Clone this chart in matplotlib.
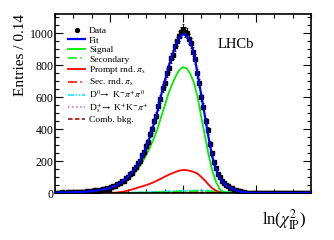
import numpy as np
import matplotlib
matplotlib.use("Agg")
import matplotlib.pyplot as plt
from matplotlib.lines import Line2D
from matplotlib.ticker import MultipleLocator

plt.rcParams['font.family'] = ['Liberation Serif', 'DejaVu Serif']
plt.rcParams['mathtext.fontset'] = 'stix'

# ---------------- data ----------------
bin_lo = -3.75
bin_w = 0.14
data_counts = [1, 3, 2, 4, 3, 2, 4, 5, 3, 6, 4, 7, 5, 8, 7, 11, 9, 13, 12, 16,
               14, 20, 18, 25, 22, 30, 27, 36, 42, 45, 56, 60, 74, 76, 92, 99, 119, 125, 150, 160,
               188, 200, 236, 255, 295, 318, 370, 398, 450, 482, 545, 588, 655, 690, 752, 785, 845, 866, 920, 948,
               985, 1005, 1025, 1010, 1002, 962, 940, 885, 838, 750, 690, 598, 540, 450, 392, 305, 248, 192, 158, 118,
               99, 73, 64, 47, 44, 31, 29, 18, 17, 11, 10, 5, 6, 3, 3, 1, 2, 0, 0, 0,
               0, 0, 0, 0, 0, 0, 0, 0, 0, 0, 0, 0, 0, 0, 0, 0, 0, 0, 0, 0,
               0, 0, 0, 0, 0]

# main curves on a 0.25 grid from -3.75 to 13.75
curve_x0 = -3.75
curve_dx = 0.25
fit_vals = [2, 2, 3, 3, 4, 4, 5, 6, 8, 9, 12, 14, 18, 22, 26, 30, 40, 52, 66, 82,
            104, 128, 158, 192, 238, 290, 355, 430, 510, 610, 700, 785, 860, 925, 972, 995, 985, 945, 875, 745,
            610, 480, 345, 228, 150, 98, 65, 45, 32, 20, 13, 7, 4, 2, 1, 1, 0, 0, 0, 0,
            0, 0, 0, 0, 0, 0, 0, 0, 0, 0, 0]
signal_vals = [1, 1, 1, 2, 2, 2, 3, 4, 5, 6, 7, 8, 11, 14, 19, 25, 34, 45, 56, 70,
               88, 108, 132, 160, 198, 240, 288, 340, 400, 475, 545, 620, 680, 730, 770, 788, 780, 745, 690, 600,
               475, 357, 238, 140, 72, 24, 6, 1, 0, 0, 0, 0, 0, 0, 0, 0, 0, 0, 0, 0,
               0, 0, 0, 0, 0, 0, 0, 0, 0, 0, 0]
prompt_rnd_vals = [0, 0, 0, 0, 0, 0, 0, 0, 0, 0, 0, 0, 0, 0, 0, 1, 2, 3, 6, 10,
                   15, 22, 29, 36, 43, 50, 58, 68, 79, 90, 102, 113, 123, 132, 140, 144, 143, 138, 131, 121,
                   100, 78, 52, 30, 15, 5, 1, 0, 0, 0, 0, 0, 0, 0, 0, 0, 0, 0, 0, 0,
                   0, 0, 0, 0, 0, 0, 0, 0, 0, 0, 0]

# small components on a 0.5 grid from -3.75 to 13.75
small_x0 = -3.75
small_dx = 0.5
secondary_vals = [0, 0, 0, 0, 0, 0, 0, 0, 1, 1, 1, 2, 3, 4, 5, 7, 8, 10, 11, 12,
                  12, 11, 9, 6, 4, 2, 1, 0, 0, 0, 0, 0, 0, 0, 0, 0]
sec_rnd_vals = [0, 0, 0, 0, 0, 0, 0, 0, 0, 0, 0, 0, 1, 1, 2, 2, 3, 4, 4, 5,
                5, 4, 3, 2, 1, 1, 0, 0, 0, 0, 0, 0, 0, 0, 0, 0]
d0_vals = [0, 0, 0, 0, 0, 0, 0, 0, 1, 2, 3, 5, 5, 7, 9, 11, 13, 14, 15, 16,
           16, 15, 13, 10, 7, 4, 2, 1, 0, 0, 0, 0, 0, 0, 0, 0]
ds_vals = [0, 0, 0, 0, 0, 0, 0, 0, 0, 0, 1, 1, 2, 3, 4, 5, 6, 7, 8, 8,
           8, 7, 6, 4, 3, 2, 1, 0, 0, 0, 0, 0, 0, 0, 0, 0]
comb_vals = [1, 1, 1, 1, 1, 1, 1, 1, 1, 1, 1, 1, 1, 1, 1, 1, 1, 1, 1, 1,
             1, 1, 1, 1, 1, 1, 1, 1, 1, 1, 1, 1, 1, 1, 1, 1]

labels = ["Data", "Fit", "Signal", "Secondary", r"Prompt rnd. $\pi_{\rm s}$",
          r"Sec. rnd. $\pi_{\rm s}$", r"D$^{0}\!\rightarrow$ K$^{-}\pi^{+}\pi^{0}$",
          r"D$^{+}_{\rm s}\!\rightarrow$ K$^{+}$K$^{-}\pi^{+}$", "Comb. bkg."]

# ---------------- plot ----------------
fig = plt.figure(figsize=(3.34, 2.40), dpi=100)
ax = fig.add_axes([55/334, 1-193/240, (311-55)/334, (193-14)/240])

data_counts = np.array(data_counts, dtype=float)
xc = bin_lo + bin_w*(np.arange(len(data_counts)) + 0.5)
cx = curve_x0 + curve_dx*np.arange(len(fit_vals))
sx = small_x0 + small_dx*np.arange(len(secondary_vals))

lw_main = 1.3
h_comb, = ax.plot(sx, comb_vals, color='#8b0000', ls=(0, (3, 1.5)), lw=1.1)
h_ds, = ax.plot(sx, ds_vals, color='#dd55dd', ls=':', lw=1.1)
h_d0, = ax.plot(sx, d0_vals, color='#00e5ee', ls=(0, (4, 1, 1, 1, 1, 1)), lw=1.1)
h_srnd, = ax.plot(sx, sec_rnd_vals, color='#ff0000', ls=(0, (6, 2, 1, 2)), lw=1.1)
h_sec, = ax.plot(sx, secondary_vals, color='#00ee00', ls=(0, (6, 2, 1, 2)), lw=1.1)
h_prnd, = ax.plot(cx, prompt_rnd_vals, color='#ff0000', lw=lw_main)
h_sig, = ax.plot(cx, signal_vals, color='#00ee00', lw=lw_main)
ax.errorbar(xc, data_counts, yerr=np.sqrt(data_counts), fmt='s', color='black',
            ms=2.2, elinewidth=0.6, capsize=1.0, capthick=0.6, zorder=3)
h_fit, = ax.plot(cx, fit_vals, color='#0000ff', lw=1.6, zorder=4)
h_data = Line2D([], [], marker='o', color='black', ls='none', ms=2.8)

ax.set_xlim(-3.75, 13.75)
ax.set_ylim(0, 1120)
ax.xaxis.set_major_locator(MultipleLocator(5))
ax.xaxis.set_minor_locator(MultipleLocator(1.25))
ax.yaxis.set_major_locator(MultipleLocator(200))
ax.yaxis.set_minor_locator(MultipleLocator(50))
ax.tick_params(which='both', direction='in', top=True, right=True, width=0.8)
ax.tick_params(which='major', length=6)
ax.tick_params(which='minor', length=3)
ax.tick_params(axis='y', labelsize=8.5, pad=1)
ax.tick_params(axis='x', labelbottom=False)
for s in ax.spines.values():
    s.set_linewidth(1.2)

ax.set_ylabel("Entries / 0.14", fontsize=11, loc='top', labelpad=2)
fig.text(306/334, 1-220/240, r"ln($\chi^{2}_{\rm IP}$)", fontsize=12, ha='right', va='center')
ax.text(0.637, 0.827, "LHCb", transform=ax.transAxes, fontsize=10.5, ha='left', va='center')

handles = [h_data, h_fit, h_sig, h_sec, h_prnd, h_srnd, h_d0, h_ds, h_comb]
leg = ax.legend(handles, labels, loc='upper left', bbox_to_anchor=(0.03, 0.96),
                frameon=False, fontsize=6.8, handlelength=1.8, handletextpad=0.4,
                labelspacing=0.08, borderpad=0.1)

fig.savefig("out.png", dpi=100)
